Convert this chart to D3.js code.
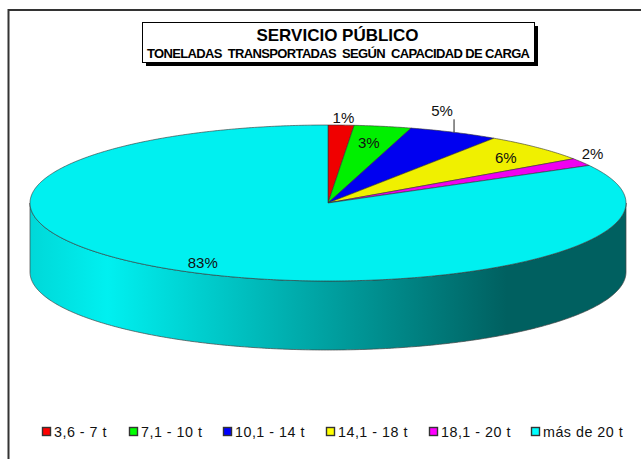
<!DOCTYPE html>
<html>
<head>
<meta charset="utf-8">
<script src="https://cdn.jsdelivr.net/npm/d3@7"></script>
<style>
html, body { margin: 0; padding: 0; background: #fff; overflow: hidden; }
svg { display: block; }
text { font-family: "Liberation Sans", Arial, sans-serif; white-space: pre; }
</style>
</head>
<body>
<div id="chart"></div>
<script>
const w = 641, h = 459;

const categories = ['3,6 - 7 t', '7,1 - 10 t', '10,1 - 14 t', '14,1 - 18 t', '18,1 - 20 t', 'más de 20 t'];
const shares = [1.4, 3.1, 4.9, 6.0, 1.6, 83.0];
const sliceColors = ['#f00000', '#00f000', '#0000f0', '#f0f000', '#f000f0', '#00f0f0'];
const swatchColors = ['#ff0000', '#00ff00', '#0000ff', '#ffff00', '#ff00ff', '#00ffff'];
const titleLines = ['SERVICIO PÚBLICO', 'TONELADAS  TRANSPORTADAS  SEGÚN  CAPACIDAD DE CARGA'];

// how far out each label sits, 1 = on the rim
const labelReach = [1.10, 0.78, 1.0, 0.84, 1.0, 0.865];
// hand nudges in px, labels don't sit exactly on the mid angle
const labelDx = [1, -2, -12, 2, 11, 6];
const labelDy = [0, 0, -22, 1, -8, 2];

const svg = d3.select('#chart').append('svg')
	.attr('width', w)
	.attr('height', h);

// x and y of the tilted pie, unit circle to pixels
const x = d3.scaleLinear().domain([-1, 1]).range([30, 626]);
const y = d3.scaleLinear().domain([-1, 1]).range([281, 125]);
const depth = 69;

const pie = d3.pie().sort(null).value(function(d){ return d; });
const slices = pie(shares);

const px = function(a, r){ return x(r * Math.sin(a)); };
const py = function(a, r){ return y(r * Math.cos(a)); };

const rim = function(a0, a1, dy){
	const n = Math.ceil(Math.abs(a1 - a0) / 0.01);
	return d3.range(n + 1).map(function(i){
		const a = a0 + (a1 - a0) * i / n;
		return [px(a, 1), py(a, 1) + dy];
	});
};
const line = d3.line();

// frame, only top and left are visible in the crop
svg.append('path')
	.attr('d', 'M8.5,' + h + 'V10H' + w)
	.attr('fill', 'none')
	.attr('stroke', '#333')
	.attr('stroke-width', 2);

// title box with hard shadow
svg.append('rect').attr('x', 146).attr('y', 26).attr('width', 392).attr('height', 40).attr('fill', '#000');
svg.append('rect').attr('x', 142.5).attr('y', 22.5).attr('width', 392).attr('height', 40)
	.attr('fill', '#fff').attr('stroke', '#000');
svg.append('text').text(titleLines[0])
	.attr('x', 337.5).attr('y', 41)
	.attr('text-anchor', 'middle')
	.attr('font-size', '17px').attr('font-weight', 'bold');
svg.append('text').text(titleLines[1])
	.attr('x', 338.5).attr('y', 58)
	.attr('text-anchor', 'middle')
	.attr('textLength', 383)
	.attr('lengthAdjust', 'spacing')
	.attr('font-size', '13px').attr('font-weight', 'bold');

// side wall, shaded left to right
const grad = svg.append('defs').append('linearGradient')
	.attr('id', 'wall')
	.attr('gradientUnits', 'userSpaceOnUse')
	.attr('x1', x(-1)).attr('x2', x(1)).attr('y1', 0).attr('y2', 0);
[[0, '#00d8d8'], [0.13, '#00f0f0'], [0.8, '#006060'], [1, '#006060']].forEach(function(s){
	grad.append('stop').attr('offset', s[0]).attr('stop-color', s[1]);
});

const front = rim(Math.PI / 2, Math.PI * 1.5, 0);
const frontLow = rim(Math.PI * 1.5, Math.PI / 2, depth);
svg.append('path')
	.attr('d', line(front.concat(frontLow)) + 'Z')
	.attr('fill', 'url(#wall)')
	.attr('stroke', '#444')
	.attr('stroke-width', 0.7);

// top face
const center = [x(0), y(0)];
svg.selectAll('.slice')
	.data(slices)
	.enter()
	.append('path')
	.attr('class', 'slice')
	.attr('d', function(d){
		return line([center].concat(rim(d.startAngle, d.endAngle, 0))) + 'Z';
	})
	.attr('fill', function(d, i){ return sliceColors[i]; })
	.attr('stroke', '#333')
	.attr('stroke-width', 0.6)
	.attr('stroke-linejoin', 'round');

// leader for the 5% label
const midAngle = function(d){ return (d.startAngle + d.endAngle) / 2; };
svg.append('line')
	.attr('x1', px(midAngle(slices[2]), 1)).attr('x2', px(midAngle(slices[2]), 1))
	.attr('y1', py(midAngle(slices[2]), 1)).attr('y2', py(midAngle(slices[2]), 1) - 13)
	.attr('stroke', '#222').attr('stroke-width', 1);

svg.selectAll('.pct')
	.data(slices)
	.enter()
	.append('text')
	.attr('class', 'pct')
	.text(function(d){ return Math.round(d.value) + '%'; })
	.attr('x', function(d, i){ return px(midAngle(d), labelReach[i]) + labelDx[i]; })
	.attr('y', function(d, i){ return py(midAngle(d), labelReach[i]) + labelDy[i]; })
	.attr('dy', '.35em')
	.attr('text-anchor', 'middle')
	.attr('font-size', '15px')
	.attr('fill', '#111');

// legend
const legendStart = [42, 129, 223, 326, 429, 531];
const legend = svg.selectAll('.legend')
	.data(categories)
	.enter()
	.append('g')
	.attr('class', 'legend')
	.attr('transform', function(d, i){ return 'translate(' + legendStart[i] + ',432)'; });
legend.append('rect')
	.attr('x', 0.5).attr('y', -4.5)
	.attr('width', 8).attr('height', 8)
	.attr('fill', function(d, i){ return swatchColors[i]; })
	.attr('stroke', '#333')
	.attr('stroke-width', 1.4);
legend.append('text')
	.text(function(d){ return d; })
	.attr('x', 12).attr('y', 0)
	.attr('dy', '.35em')
	.attr('font-size', '14.3px')
	.attr('letter-spacing', '0.5px')
	.attr('fill', '#111');
</script>
</body>
</html>
